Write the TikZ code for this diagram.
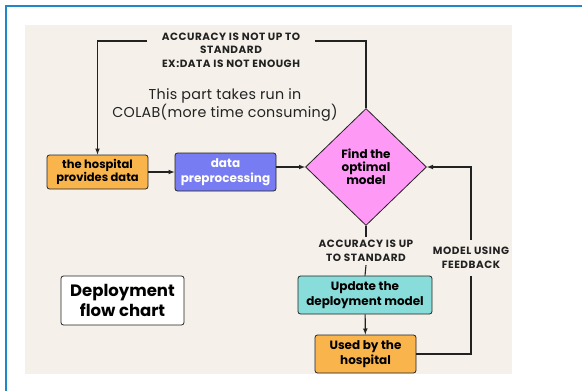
\documentclass[tikz,border=0pt]{standalone}
\usepackage{fontspec}
\setmainfont{Poppins}
\usetikzlibrary{shapes.geometric,positioning}
\definecolor{frameblue}{HTML}{1E88C8}
\definecolor{paper}{HTML}{F5F1EA}
\definecolor{boxorange}{HTML}{F9B54C}
\definecolor{boxblue}{HTML}{787CF2}
\definecolor{boxpink}{HTML}{FF99F6}
\definecolor{boxteal}{HTML}{88DCD9}
\definecolor{ink}{HTML}{222222}
\tikzset{
  box/.style={draw=ink, line width=0.8pt, rounded corners=2.5pt, align=center, inner sep=0pt, font=\bfseries\fontsize{12}{14}\selectfont},
  caps/.style={align=center, inner sep=0pt, font=\bfseries\fontsize{10.5}{13.5}\selectfont\addfontfeatures{LetterSpace=5}, text=ink},
  wire/.style={draw=ink, line width=1.1pt}
}
\begin{document}
\begin{tikzpicture}[>=latex, x=1pt, y=-1pt]
\useasboundingbox (0,0) rectangle (582,391);
\fill[white] (0,0) rectangle (582,391);
\draw[frameblue, line width=2pt] (6,391) -- (6,6) -- (582,6);
\fill[paper] (25,25) rectangle (512,374);
\node[box, fill=boxorange, minimum width=101pt, minimum height=34pt, font=\bfseries\fontsize{11.5}{13}\selectfont] (hosp) at (97.5,172) {the hospital\\provides data};
\node[box, fill=boxblue, text=white, minimum width=101pt, minimum height=38pt, font=\bfseries\fontsize{12}{15}\selectfont] (prep) at (225.5,172) {data\\preprocessing};
\node[diamond, draw=ink, line width=0.8pt, fill=boxpink, minimum width=121pt, minimum height=117pt, inner sep=0pt, align=center, font=\bfseries\fontsize{12}{13}\selectfont] (diam) at (366,167) {Find the\\optimal\\model};
\node[box, fill=boxteal, minimum width=134pt, minimum height=38pt, font=\bfseries\fontsize{12}{15}\selectfont] (upd) at (365,295) {Update the\\deployment model};
\node[box, fill=boxorange, minimum width=101pt, minimum height=38pt, font=\bfseries\fontsize{12}{15.5}\selectfont] (used) at (365.5,354) {Used by the\\hospital};
\node[box, fill=white, minimum width=123pt, minimum height=49pt, font=\bfseries\fontsize{16.5}{19.5}\selectfont] (title) at (122.5,300.5) {Deployment\\flow chart};
\node[caps] (notok) at (231,50) {ACCURACY IS NOT UP TO\\STANDARD\\EX:DATA IS NOT ENOUGH};
\node[align=center, inner sep=0pt, text=ink, font=\fontsize{14.3}{18}\selectfont\addfontfeatures{LetterSpace=2}] (colab) at (225,105) {This part takes run in\\COLAB(more time consuming)};
\node[caps, minimum height=28pt] (ok) at (366,251) {ACCURACY IS UP\\TO STANDARD};
\node[caps, minimum height=36pt] (fb) at (471,258) {MODEL USING\\FEEDBACK};
\coordinate (tr) at (315,41);
\coordinate (tl) at (147,41);
\draw[wire] (diam.north) |- (tr);
\draw[wire,->] (tl) -| (hosp.north);
\draw[wire,->] (hosp) -- (prep);
\draw[wire,->] (prep.east |- diam.west) -- (diam.west);
\draw[wire] (diam.south) -- (ok.north);
\draw[wire] (ok.south) -- (upd.north);
\draw[wire,->] (upd) -- (used);
\draw[wire] (used.east) -| (fb.south);
\draw[wire,->] (fb.north) |- (diam.east);
\end{tikzpicture}
\end{document}
